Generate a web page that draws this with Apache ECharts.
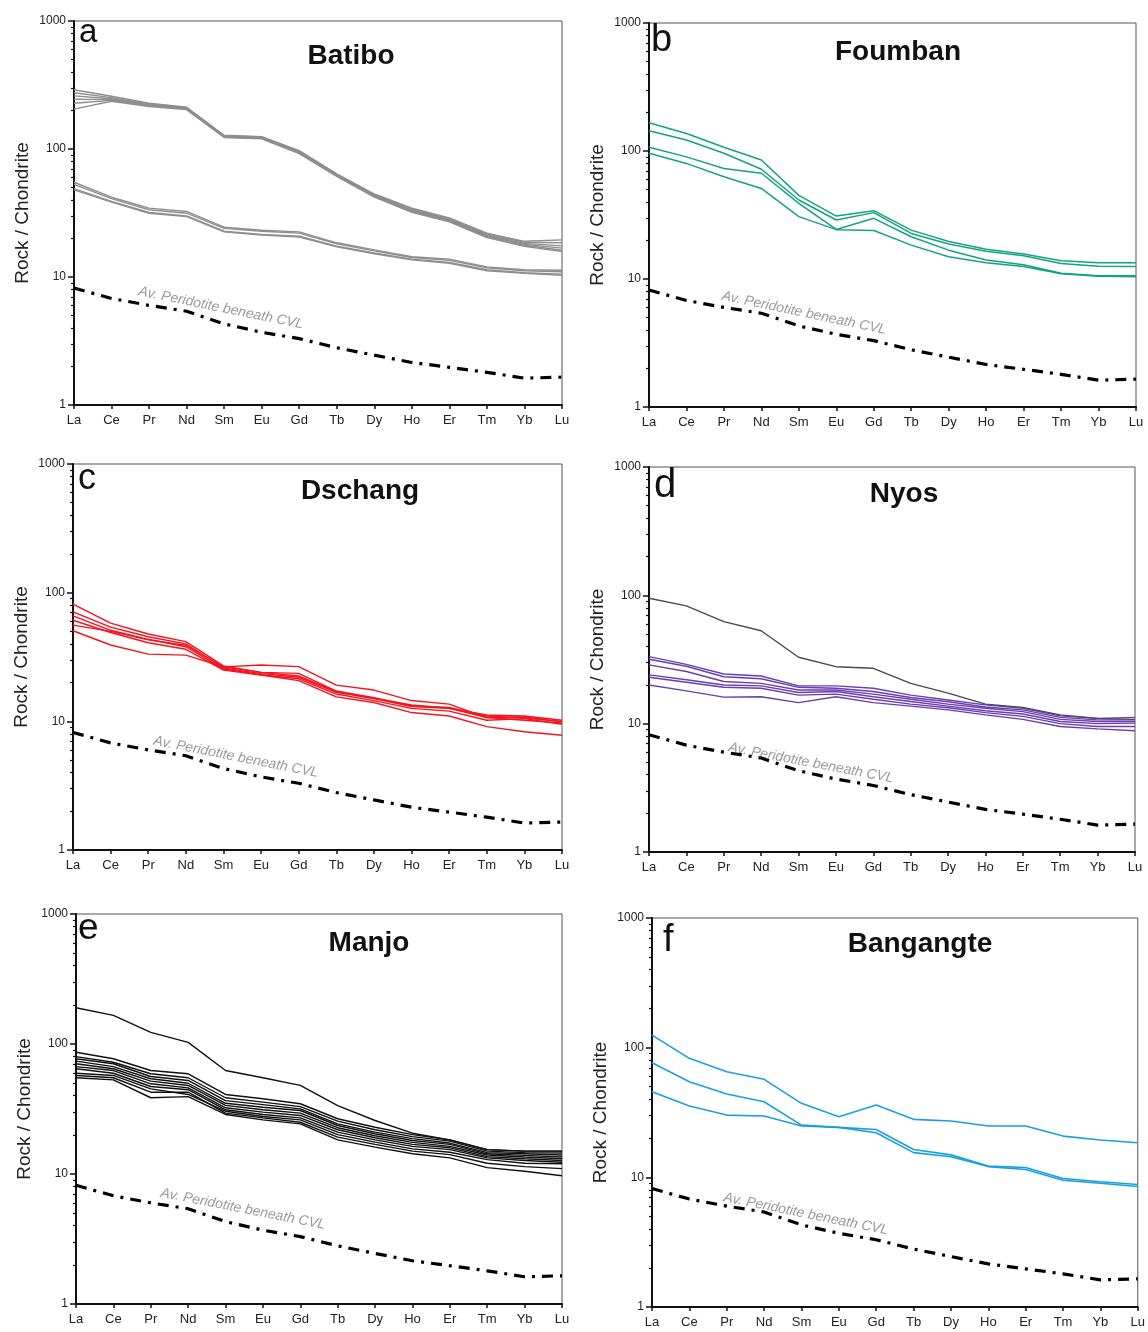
<!DOCTYPE html>
<html>
<head>
<meta charset="utf-8">
<script src="https://cdn.jsdelivr.net/npm/echarts@6/dist/echarts.min.js"></script>
<style>
html,body{margin:0;padding:0;background:#fff;}
#chart{width:1148px;height:1332px;}
</style>
</head>
<body>
<div id="chart"></div>
<script>
// ---------------- DATA ----------------
const elements = ['La','Ce','Pr','Nd','Sm','Eu','Gd','Tb','Dy','Ho','Er','Tm','Yb','Lu'];
const yTickValues = [1, 10, 100, 1000];
const minorTickValues = [2,3,4,5,6,7,8,9,20,30,40,50,60,70,80,90,200,300,400,500,600,700,800,900];

// Av. peridotite beneath CVL (same reference curve in every panel)
const peridotite = [8.2, 6.8, 6.0, 5.4, 4.3, 3.7, 3.3, 2.8, 2.45, 2.15, 1.97, 1.8, 1.62, 1.65];

// a) Batibo
const batibo = [
  [290, 258, 228, 212, 128, 125, 97, 64, 44.5, 34.5, 29, 22, 19, 19.5],
  [275, 252, 225, 210, 127, 124, 96, 63.5, 44, 34, 28.5, 21.7, 18.7, 18.5],
  [260, 247, 222, 208, 126, 123, 95, 63, 43.5, 33.5, 28, 21.3, 18.3, 17.5],
  [245, 243, 220, 206, 125, 122, 94, 62, 43, 33, 27.5, 21, 18, 16.8],
  [228, 240, 218, 205, 124, 121, 93, 61.5, 42.5, 32.5, 27.2, 20.7, 17.7, 16.2],
  [205, 236, 215, 203, 123, 120, 92, 61, 42, 32, 27, 20.3, 17.4, 15.8],
  [55, 42, 34.5, 32.5, 24.5, 23.2, 22.5, 18.5, 16.3, 14.4, 13.8, 12.0, 11.4, 11.3],
  [53, 41, 33.5, 31.5, 24, 22.8, 22.0, 18.2, 16.0, 14.2, 13.5, 11.8, 11.2, 11.0],
  [49, 39, 32, 30, 22.8, 21.5, 20.8, 17.4, 15.4, 13.8, 13.0, 11.4, 10.8, 10.5],
  [48, 38.5, 31.5, 29.6, 22.5, 21.3, 20.5, 17.2, 15.2, 13.6, 12.8, 11.2, 10.7, 10.3]
];

// b) Foumban
const foumban = [
  [166, 137, 107, 85, 45, 31, 34.2, 24.1, 19.6, 17.1, 15.7, 13.9, 13.4, 13.4],
  [144, 122, 96, 72, 41.4, 28.9, 33, 22.7, 18.8, 16.5, 15.2, 13.2, 12.6, 12.5],
  [107, 90, 73, 67, 39, 24.4, 29.8, 21.4, 16.8, 14.1, 12.9, 11.1, 10.6, 10.6],
  [96, 80, 63, 51, 30.7, 24.3, 23.9, 18.4, 14.9, 13.4, 12.5, 11.0, 10.5, 10.4]
];

// c) Dschang
const dschang = [
  [81.5, 58, 47.7, 41.6, 27, 24, 22.5, 17, 15.1, 13.4, 12.6, 11.2, 11, 10.2],
  [71, 54, 45.4, 40, 26, 23.5, 22, 16.8, 15, 13, 12.6, 10.7, 10.8, 9.9],
  [66, 51, 43.4, 38, 25.5, 23, 21.4, 16.3, 14.5, 12.6, 12, 10.2, 10.5, 9.5],
  [61, 49, 40.8, 36.3, 25, 22.9, 20.7, 15.5, 14, 11.7, 11, 9.1, 8.3, 7.8],
  [56, 50, 43, 39, 26.5, 24, 23.6, 17.2, 15.3, 13.2, 12.8, 11, 10.6, 10],
  [50.6, 39.2, 33.3, 32.7, 26.5, 27.4, 26.6, 19.1, 17.5, 14.5, 13.6, 10.7, 10.2, 9.7]
];

// d) Nyos (one darker sample + purple group)
const nyosDark = [95, 82.7, 62.4, 53, 32.9, 27.8, 27, 20.6, 17.3, 14.2, 13.4, 11.7, 11, 10.8];
const nyos = [
  [33.3, 29, 24.4, 23.5, 19.7, 19.7, 18.9, 16.7, 15.3, 14, 13.2, 11.5, 11.0, 11.2],
  [31.8, 28, 23.2, 22.4, 19.2, 18.9, 17.8, 16.0, 14.8, 13.5, 12.8, 11.2, 10.7, 10.7],
  [28.7, 25.5, 21.3, 20.6, 18.3, 18.3, 17.0, 15.5, 14.2, 13.2, 12.4, 10.8, 10.4, 10.4],
  [24, 22, 20, 19.7, 17.5, 17.8, 16.2, 14.9, 13.7, 12.6, 11.9, 10.4, 10.0, 10.1],
  [23, 21, 19.2, 18.9, 16.7, 17.0, 15.5, 14.2, 13.3, 12.2, 11.4, 10.0, 9.5, 9.5],
  [20, 18, 16.1, 16.2, 14.6, 16.2, 14.6, 13.7, 12.8, 11.7, 10.8, 9.5, 9.1, 8.8]
];

// e) Manjo
const manjo = [
  [190, 166, 123, 103, 62.5, 55, 48, 33.6, 25.8, 20.6, 18.3, 15.4, 15, 15],
  [86.5, 77, 62.5, 59, 40.9, 37.9, 34.7, 26.6, 22.9, 20.1, 18.3, 15.4, 15, 15],
  [80, 72.4, 59, 55, 38.6, 35.7, 33, 25.5, 21.9, 19.4, 17.9, 15, 14.6, 14.5],
  [77, 70.5, 56.2, 52.4, 36.7, 34.2, 31.7, 24.3, 21, 18.7, 17.3, 14.6, 14.3, 14],
  [73.8, 67, 54, 49.9, 35, 32.6, 30.8, 23.6, 20.4, 18.1, 16.9, 14.3, 13.9, 13.5],
  [70.5, 64.5, 51.8, 48, 33.7, 31.2, 29.4, 22.7, 19.7, 17.5, 16.3, 14, 13.5, 13.1],
  [67, 62.5, 49.4, 46, 32.3, 29.9, 28.2, 21.9, 19, 16.9, 15.9, 13.6, 13.1, 12.7],
  [64.5, 59.6, 47.1, 44.5, 31.2, 28.7, 27, 21, 18.3, 16.3, 15.4, 13.3, 12.7, 12.3],
  [59.6, 57.3, 45.2, 40.9, 30.4, 27.7, 26.1, 20.1, 17.6, 15.6, 14.7, 12.9, 12.1, 12],
  [57.3, 55, 42.6, 42.6, 29.4, 27, 25, 19.2, 16.9, 15, 14.1, 12.1, 11.4, 11],
  [55, 53, 38.6, 39.4, 28.7, 26.1, 24.3, 18.3, 16.1, 14.3, 13.3, 11.2, 10.5, 9.7]
];

// f) Bangangte
const bangangte = [
  [125, 82.7, 65.2, 57, 37.2, 29.3, 36.1, 28, 27.2, 24.9, 24.9, 20.8, 19.4, 18.5],
  [76.5, 54.6, 43.9, 38.3, 25.3, 24.3, 23.4, 16.4, 14.9, 12.2, 11.9, 9.8, 9.25, 8.8],
  [45.7, 35.5, 30.2, 29.7, 24.9, 24.3, 22.1, 15.5, 14.4, 12.1, 11.5, 9.5, 9.0, 8.5]
];

const panelLetters = ['a','b','c','d','e','f'];
const panelTitles = ['Batibo','Foumban','Dschang','Nyos','Manjo','Bangangte'];
const yAxisName = 'Rock / Chondrite';
const peridotiteLabel = 'Av. Peridotite beneath CVL';

// ---------------- LAYOUT / STYLE ----------------
const panels = [
  {groups:[{d:batibo, c:'#8e8e8e', w:1.4}], grid:{left:74, top:21, width:488, height:384},
   letter:[79,33,33], title:[351,56], note:[221,308,11.5]},
  {groups:[{d:foumban, c:'#14a283', w:1.5}], grid:{left:649, top:23, width:487, height:384},
   letter:[651,41,38], title:[898,52], note:[804,313,11.9]},
  {groups:[{d:dschang, c:'#f2141f', w:1.4}], grid:{left:73, top:464, width:489, height:386},
   letter:[78,479,36], title:[360,491], note:[236,757,11.2]},
  {groups:[{d:nyos, c:'#6a3db0', w:1.4}, {d:[nyosDark], c:'#4b4756', w:1.4}], grid:{left:649, top:467, width:486, height:385},
   letter:[654,486,40], title:[904,494], note:[811,763,10.8]},
  {groups:[{d:manjo, c:'#111111', w:1.4}], grid:{left:76, top:914, width:486, height:390},
   letter:[78,929,37], title:[369,943], note:[243,1209,11.1]},
  {groups:[{d:bangangte, c:'#1a9fe2', w:1.6}], grid:{left:652, top:918, width:486, height:389},
   letter:[663,941,38], title:[920,944], note:[806,1214,11.5]}
];

const FONT = 'Liberation Sans, Arial, sans-serif';
const grids = [], xAxes = [], yAxes = [], series = [], graphics = [];

panels.forEach((p, i) => {
  grids.push(Object.assign({show:true, borderColor:'#555', borderWidth:1, containLabel:false}, p.grid));
  xAxes.push({
    type:'category', gridIndex:i, data:elements, boundaryGap:false,
    axisLine:{show:true, lineStyle:{color:'#111', width:2}},
    axisTick:{show:true, length:4, inside:false, lineStyle:{color:'#111', width:1.5}},
    axisLabel:{interval:0, color:'#222', fontSize:13, margin:9, fontFamily:FONT},
    splitLine:{show:false}
  });
  yAxes.push({
    type:'log', logBase:10, min:1, max:1000, gridIndex:i, position:'left',
    axisLine:{show:true, lineStyle:{color:'#111', width:2}},
    axisTick:{show:true, length:6, inside:false, customValues:yTickValues, lineStyle:{color:'#111', width:1.5}},
    axisLabel:{color:'#222', fontSize:12, margin:8, fontFamily:FONT, customValues:yTickValues,
               formatter: v => String(v)},
    splitLine:{show:false},
    name:yAxisName, nameLocation:'middle', nameGap:42,
    nameTextStyle:{fontSize:19, color:'#222', fontFamily:FONT}
  });
  yAxes.push({
    type:'log', logBase:10, min:1, max:1000, gridIndex:i, position:'left', offset:0,
    axisLine:{show:false},
    axisTick:{show:true, length:3, inside:false, customValues:minorTickValues, lineStyle:{color:'#111', width:1.2}},
    axisLabel:{show:false},
    splitLine:{show:false}
  });
  p.groups.forEach(g => {
    g.d.forEach(arr => {
      series.push({
        type:'line', xAxisIndex:i, yAxisIndex:2*i, data:arr, symbol:'none',
        lineStyle:{color:g.c, width:g.w}, silent:true, animation:false, z:3
      });
    });
  });
  series.push({
    type:'line', xAxisIndex:i, yAxisIndex:2*i, data:peridotite, symbol:'none',
    lineStyle:{color:'#000', width:3.2, type:[11,7,3,7]}, silent:true, animation:false, z:4
  });
  graphics.push({type:'text', x:p.letter[0], y:p.letter[1],
    style:{text:panelLetters[i], font:`${p.letter[2]}px ${FONT}`, fill:'#111', align:'left', verticalAlign:'middle'}});
  graphics.push({type:'text', x:p.title[0], y:p.title[1],
    style:{text:panelTitles[i], font:`bold 28px ${FONT}`, fill:'#111', align:'center', verticalAlign:'middle'}});
  graphics.push({type:'text', x:p.note[0], y:p.note[1], rotation:-p.note[2]*Math.PI/180,
    style:{text:peridotiteLabel, font:`italic 14px ${FONT}`, fill:'#9a9a9a', align:'center', verticalAlign:'middle'}});
});

const chart = echarts.init(document.getElementById('chart'), null, {renderer:'canvas'});
chart.setOption({
  backgroundColor:'#ffffff',
  animation:false,
  grid:grids, xAxis:xAxes, yAxis:yAxes, series:series, graphic:graphics
});
</script>
</body>
</html>
